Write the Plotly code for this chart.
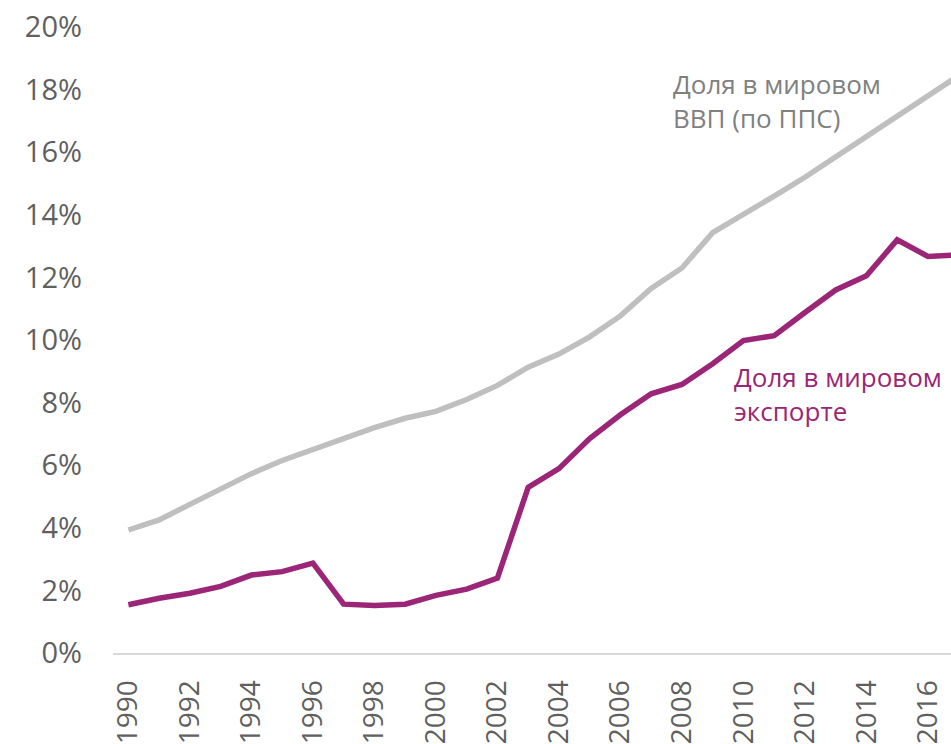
import plotly.graph_objects as go

years = list(range(1990, 2018))
gdp_share = [3.93, 4.25, 4.75, 5.25, 5.73, 6.15, 6.5, 6.85, 7.2, 7.5, 7.72, 8.1, 8.55, 9.13, 9.55, 10.1,
             10.77, 11.65, 12.3, 13.43, 14.0, 14.6, 15.2, 15.85, 16.5, 17.15, 17.8, 18.45]
export_share = [1.54, 1.75, 1.91, 2.13, 2.49, 2.6, 2.87, 1.56, 1.52, 1.56, 1.84, 2.04, 2.39, 5.29, 5.89, 6.85,
                7.61, 8.28, 8.58, 9.24, 9.98, 10.14, 10.88, 11.6, 12.05, 13.2, 12.67, 12.72]
y_ticks = list(range(0, 21, 2))
x_ticks = list(range(1990, 2017, 2))

GRAY_LINE = "#bfbfbf"
PURPLE = "#9b2576"
FONT = "Open Sans"

fig = go.Figure()
fig.add_trace(go.Scatter(x=years, y=gdp_share, mode="lines",
                         line=dict(color=GRAY_LINE, width=5.5), hoverinfo="skip"))
fig.add_trace(go.Scatter(x=years, y=export_share, mode="lines",
                         line=dict(color=PURPLE, width=5.5), hoverinfo="skip"))

fig.add_annotation(text="Доля в мировом<br>ВВП (по ППС)", xref="paper", yref="paper",
                   x=(671 - 113) / 838, y=(655 - 64) / 628, xanchor="left", yanchor="top",
                   showarrow=False, align="left",
                   font=dict(family=FONT, size=26, color="#808080"))
fig.add_annotation(text="Доля в мировом<br>экспорте", xref="paper", yref="paper",
                   x=(732 - 113) / 838, y=(655 - 358) / 628, xanchor="left", yanchor="top",
                   showarrow=False, align="left",
                   font=dict(family=FONT, size=26, color=PURPLE))

fig.update_layout(
    width=951, height=744,
    margin=dict(l=113, r=0, t=27, b=89),
    paper_bgcolor="white", plot_bgcolor="white",
    showlegend=False,
    font=dict(family=FONT, color="#595959"),
    xaxis=dict(range=[1989.5, 2016.75], tickvals=x_ticks, tickangle=-90,
               showgrid=False, zeroline=False, showline=True, linecolor="#d9d9d9", linewidth=2,
               ticks="", tickfont=dict(size=28, color="#5f5f5f"), ticklabelstandoff=14,
               fixedrange=True),
    yaxis=dict(range=[0, 20], tickvals=y_ticks, ticktext=[f"{v}%" for v in y_ticks],
               showgrid=False, zeroline=False, showline=False, ticks="",
               tickfont=dict(size=29, color="#5f5f5f"), ticklabelstandoff=30,
               fixedrange=True),
)

fig.write_html("out.html", config={"displayModeBar": False},
               post_script="document.body.style.margin='0';document.body.style.overflow='hidden';")
